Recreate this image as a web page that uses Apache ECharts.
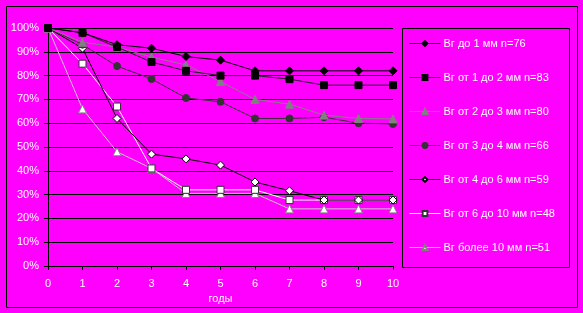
<!DOCTYPE html>
<html>
<head>
<meta charset="utf-8">
<script src="https://cdn.jsdelivr.net/npm/echarts@6/dist/echarts.min.js"></script>
<style>
  html, body { margin: 0; padding: 0; background: #ff00ff; }
  #chart { width: 583px; height: 313px; }
</style>
</head>
<body>
<div id="chart"></div>
<script>
// годы
const years = [0, 1, 2, 3, 4, 5, 6, 7, 8, 9, 10]
const yTicks = [0, 10, 20, 30, 40, 50, 60, 70, 80, 90, 100]

const names = [
  'Вг до 1 мм n=76',
  'Вг от 1 до 2 мм n=83',
  'Вг от 2 до 3 мм n=80',
  'Вг от 3 до 4 мм n=66',
  'Вг от 4 до 6 мм n=59',
  'Вг от 6 до 10 мм n=48',
  'Вг более 10 мм n=51'
]

const s1 = [100, 98, 93, 91.5, 88, 86.5, 82, 82, 82, 82, 82]
const s2 = [100, 98, 92, 85.7, 82, 80, 80, 78.5, 76, 76, 76]
const s3 = [100, 94, 92, 87.8, 84.5, 77.5, 70, 68, 63.4, 62, 61.8]
const s4 = [100, 93, 84, 78.6, 70.6, 69, 62, 62, 62.5, 60, 59.7]
const s5 = [100, 91.5, 62, 47, 45, 42.4, 35.3, 31.6, 27.7, 27.7, 27.7]
const s6 = [100, 85, 67, 41, 32, 32, 32, 27.7, 27.7, 27.7, 27.7]
const s7 = [100, 66, 48, 41, 30.5, 30.5, 30.5, 24, 24, 24, 24]

const values = [s1, s2, s3, s4, s5, s6, s7]
const looks = [
  { line: '#000000', symbol: 'diamond', fill: '#000000', border: '#000000', size: 8 },
  { line: '#222222', symbol: 'rect', fill: '#000000', border: '#000000', size: 7 },
  { line: '#808080', symbol: 'triangle', fill: '#808080', border: '#808080', size: 8 },
  { line: '#333333', symbol: 'circle', fill: '#333333', border: '#333333', size: 7 },
  { line: '#000000', symbol: 'diamond', fill: '#ffffff', border: '#000000', size: 8 },
  { line: '#ffffff', symbol: 'rect', fill: '#ffffff', border: '#333333', size: 7 },
  { line: '#c8c8c8', symbol: 'triangle', fill: '#ffffff', border: '#808080', size: 8 }
]

const chart = echarts.init(document.getElementById('chart'))

const series = values.map(function (vals, i) {
  const lk = looks[i]
  return {
    name: names[i],
    type: 'line',
    data: years.map(function (y, k) { return [y, vals[k]] }),
    symbol: lk.symbol,
    symbolSize: lk.size,
    showAllSymbol: true,
    animation: false,
    lineStyle: { color: lk.line, width: 1 },
    itemStyle: { color: lk.fill, borderColor: lk.border, borderWidth: 1 },
    z: 10 - i
  }
})

chart.setOption({
  backgroundColor: '#ff00ff',
  animation: false,
  textStyle: { fontFamily: 'Liberation Sans, Arial, sans-serif' },
  grid: { left: 48, right: 190, top: 28, bottom: 47 },
  graphic: [
    {
      type: 'rect',
      shape: { x: 6.5, y: 6.5, width: 571, height: 301 },
      style: { fill: 'none', stroke: '#000', lineWidth: 1 },
      silent: true
    },
    {
      type: 'rect',
      shape: { x: 402.5, y: 28.5, width: 167, height: 239 },
      style: { fill: 'none', stroke: '#000', lineWidth: 1 },
      silent: true
    }
  ],
  legend: {
    orient: 'vertical',
    left: 409,
    top: 37,
    padding: 0,
    itemWidth: 31,
    itemHeight: 6,
    itemGap: 21,
    lineStyle: { width: 1 },
    textStyle: { color: '#ffffff', fontSize: 11, lineHeight: 13, padding: [0, 0, 0, -2] },
    data: names
  },
  xAxis: {
    type: 'value',
    min: 0,
    max: 10,
    interval: 1,
    name: 'годы',
    nameLocation: 'middle',
    nameGap: 25,
    nameTextStyle: { color: '#ffffff', fontSize: 11 },
    axisLine: { lineStyle: { color: '#000', width: 1 } },
    axisTick: { show: true, length: 4, lineStyle: { color: '#000' } },
    axisLabel: { color: '#ffffff', fontSize: 11, margin: 12 },
    splitLine: { show: false }
  },
  yAxis: {
    type: 'value',
    min: yTicks[0],
    max: yTicks[yTicks.length - 1],
    interval: 10,
    axisLine: { show: true, lineStyle: { color: '#000', width: 1 } },
    axisTick: { show: true, length: 4, lineStyle: { color: '#000' } },
    axisLabel: { color: '#ffffff', fontSize: 11, margin: 9, formatter: '{value}%' },
    splitLine: { show: true, lineStyle: { color: '#000', width: 1 } }
  },
  series: series
})
</script>
</body>
</html>
